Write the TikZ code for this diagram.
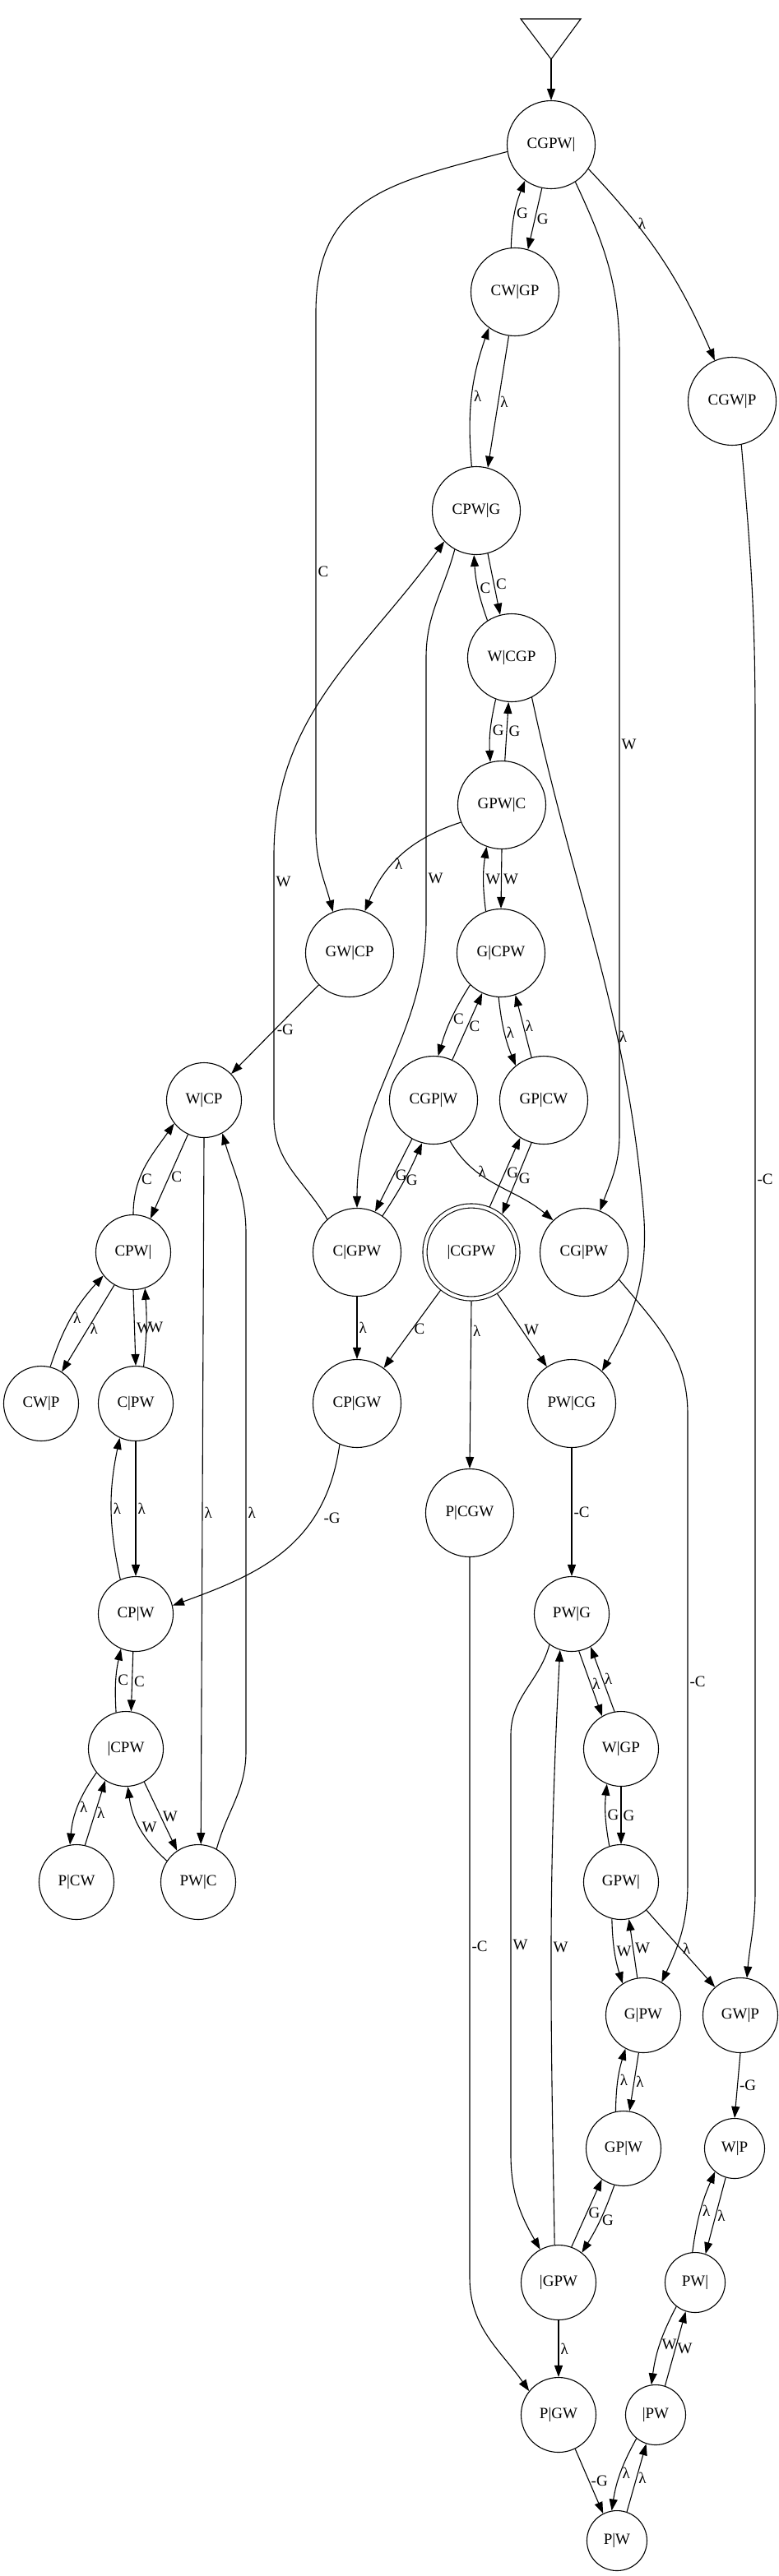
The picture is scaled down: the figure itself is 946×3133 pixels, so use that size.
\documentclass[tikz,border=0pt]{standalone}
\usepackage{fontspec}
\setmainfont{Liberation Serif}
\usepackage{tikz}
\usetikzlibrary{arrows.meta}

\begin{document}
\begin{tikzpicture}[x=1pt, y=-1pt, line width=1.1pt,
					>={Triangle[length=14pt,width=10pt]},   %Pfeilspitzen
					state/.style={circle, draw, inner sep=0pt, minimum size=#1},
					final/.style={state=113pt, double, double distance=4pt, outer sep=3pt},
					lbl/.style={right, inner sep=2pt},
					font=\fontsize{19}{22}\selectfont]
					\useasboundingbox (0,0) rectangle (946,3133);
					% Startdreieck
					\coordinate (start) at (670,72);
					\draw (633,23) -- (706,23) -- (start) -- cycle;
					% Zustände
					\node[state=107pt] (CGPW-0) at (670,176) {CGPW|};
					\node[state=107pt] (CW-GP) at (626,355) {CW|GP};
					\node[state=107pt] (CGW-P) at (890,488) {CGW|P};
					\node[state=107pt] (CPW-G) at (579,621) {CPW|G};
					\node[state=107pt] (W-CGP) at (622,800) {W|CGP};
					\node[state=107pt] (GPW-C) at (610,979) {GPW|C};
					\node[state=107pt] (GW-CP) at (425,1159) {GW|CP};
					\node[state=107pt] (G-CPW) at (609,1159) {G|CPW};
					\node[state=91pt] (W-CP) at (248,1338) {W|CP};
					\node[state=107pt] (CGP-W) at (527,1338) {CGP|W};
					\node[state=107pt] (GP-CW) at (661,1338) {GP|CW};
					\node[state=91pt] (CPW-0) at (162,1523) {CPW|};
					\node[state=107pt] (C-GPW) at (434,1523) {C|GPW};
					\node[final] (0-CGPW) at (573,1523) {|CGPW};
					\node[state=107pt] (CG-PW) at (710,1523) {CG|PW};
					\node[state=91pt] (CW-P) at (50,1707) {CW|P};
					\node[state=91pt] (C-PW) at (165,1707) {C|PW};
					\node[state=107pt] (CP-GW) at (434,1707) {CP|GW};
					\node[state=107pt] (PW-CG) at (695,1707) {PW|CG};
					\node[state=107pt] (P-CGW) at (571,1840) {P|CGW};
					\node[state=91pt] (CP-W) at (165,1963) {CP|W};
					\node[state=91pt] (PW-G) at (695,1963) {PW|G};
					\node[state=91pt] (0-CPW) at (153,2127) {|CPW};
					\node[state=91pt] (W-GP) at (755,2127) {W|GP};
					\node[state=91pt] (P-CW) at (93,2289) {P|CW};
					\node[state=91pt] (PW-C) at (241,2289) {PW|C};
					\node[state=91pt] (GPW-0) at (755,2289) {GPW|};
					\node[state=91pt] (G-PW) at (782,2451) {G|PW};
					\node[state=91pt] (GW-P) at (900,2451) {GW|P};
					\node[state=91pt] (GP-W) at (758,2613) {GP|W};
					\node[state=73pt] (W-P) at (893,2613) {W|P};
					\node[state=91pt] (0-GPW) at (679,2776) {|GPW};
					\node[state=73pt] (PW-0) at (845,2776) {PW|};
					\node[state=91pt] (P-GW) at (679,2937) {P|GW};
					\node[state=73pt] (0-PW) at (797,2937) {|PW};
					\node[state=73pt] (P-W) at (750,3090) {P|W};
					% Übergänge oben
					\draw[->] (start) -- (CGPW-0);
					\draw[->] (CGPW-0.189) to[out=195,in=90,looseness=1.2] (384,380) -- node[lbl] (l1) {C} (384,1010) to[out=-90,in=105] (GW-CP.112);
					\draw[->] (CW-GP.95) to[bend left=10] node[lbl] (l2) {G} (CGPW-0.234);
					\draw[->] (CGPW-0.258) -- node[lbl] (l3) {G} (CW-GP.73);
					\draw[->] (CGPW-0.-33) to[bend left=10] node[lbl,pos=.3] (l4) {λ} (CGW-P.113);
					\draw[->] (CGPW-0.-57) to[out=-65,in=90] (753,430) -- node[lbl] (l5) {W} (753,1380) to[out=-90,in=70] (CG-PW.69);
					\draw[->] (CW-GP.262) -- node[lbl] (l6) {λ} (CPW-G.75);
					\draw[->] (CPW-G.96) to[bend left=12] node[lbl] (l7) {λ} (CW-GP.234);
					\draw[->] (W-CGP.123) to[bend left=8] node[lbl] (l8) {C} (CPW-G.267);
					\draw[->] (CPW-G.285) -- node[lbl] (l9) {C} (W-CGP.105);
					\draw[->] (CPW-G.241) to[out=-105,in=90] (518,800) -- node[lbl,pos=.84] (l10) {W} (518,1120) to[out=-90,in=90] (C-GPW.90);
					\draw[->] (C-GPW.132) to[out=120,in=-90] (333,1360) -- node[lbl,pos=.9] (l11) {W} (333,1040) to[out=90,in=-126] (CPW-G.224);
					\draw[->] (W-CGP.249) to[bend right=8] node[lbl] (l12) {G} (GPW-C.105);
					\draw[->] (GPW-C.86) -- node[lbl] (l13) {G} (W-CGP.266);
					\draw[->] (W-CGP.297) to[out=-78,in=95] node[lbl,pos=.68] (l14) {λ} (782,1470) to[out=-85,in=60] (PW-CG.47);
					\draw[->] (GPW-C.203) to[bend right=25] node[lbl,pos=.6] (l15) {λ} (GW-CP.70);
					\draw[->] (G-CPW.110) to[bend left=8] node[lbl] (l16) {W} (GPW-C.250);
					\draw[->] (GPW-C.270) -- node[lbl] (l17) {W} (G-CPW.90);
					\draw[->] (GW-CP.226) -- node[lbl] (l18) {-G} (W-CP.44);
					\draw[->] (G-CPW.226) to[bend right=8] node[lbl] (l19) {C} (CGP-W.84);
					\draw[->] (CGP-W.65) -- node[lbl] (l20) {C} (G-CPW.245);
					\draw[->] (G-CPW.267) to[bend right=8] node[lbl] (l21) {λ} (GP-CW.129);
					\draw[->] (GP-CW.106) -- node[lbl] (l22) {λ} (G-CPW.-71);
					% Übergänge links
					\draw[->] (CPW-0.90) to[out=90,in=-125] node[lbl,pos=.35] (l23) {C} (W-CP.218);
					\draw[->] (W-CP.245) -- node[lbl] (l24) {C} (CPW-0.63);
					\draw[->] (W-CP.270) -- node[lbl,pos=.53] (l25) {λ} (PW-C.86);
					\draw[->] (PW-C.61) to[out=75,in=-90] (299,2130) -- node[lbl,pos=.46] (l26) {λ} (299,1500) to[out=90,in=-74] (W-CP.-61);
					\draw[->] (CPW-0.240) -- node[lbl] (l27) {λ} (CW-P.57);
					\draw[->] (CW-P.76) to[bend left=12] node[lbl] (l28) {λ} (CPW-0.218);
					\draw[->] (CPW-0.270) -- node[lbl] (l29) {W} (C-PW.90);
					\draw[->] (C-PW.78) to[bend right=5] node[lbl] (l30) {W} (CPW-0.288);
					\draw[->] (C-PW.270) -- node[lbl] (l31) {λ} (CP-W.90);
					\draw[->] (CP-W.114) to[bend left=12] node[lbl] (l32) {λ} (C-PW.245);
					\draw[->] (CP-GW.247) to[out=-98,in=20,out looseness=1.13] node[lbl,pos=.3,xshift=10pt] (l33) {-G} (CP-W.13);
					\draw[->] (0-CPW.105) to[bend left=8] node[lbl] (l34) {C} (CP-W.247);
					\draw[->] (CP-W.266) -- node[lbl] (l35) {C} (0-CPW.82);
					\draw[->] (0-CPW.219) to[bend right=15] node[lbl] (l36) {λ} (P-CW.100);
					\draw[->] (P-CW.77) -- node[lbl] (l37) {λ} (0-CPW.237);
					\draw[->] (PW-C.146) to[bend left=20] node[lbl] (l38) {W} (0-CPW.273);
					\draw[->] (0-CPW.299) -- node[lbl] (l39) {W} (PW-C.124);
					% Übergänge Mitte
					\draw[->] (CG-PW.-38) to[out=-50,in=90] (836,1720) -- node[lbl,pos=.57] (l40) {-C} (836,2290) to[out=-90,in=65] (G-PW.61);
					\draw[->] (CGW-P.-78) to[out=-85,in=90] (918,880) -- node[lbl,pos=.39] (l41) {-C} (918,2300) to[out=-90,in=85] (GW-P.80);
					\draw[->] (0-CGPW.231) -- node[lbl] (l42) {C} (CP-GW.53);
					\draw[->] (C-GPW.270) -- node[lbl] (l43) {λ} (CP-GW.90);
					\draw[->] (0-CGPW.270) -- node[lbl,pos=.18] (l44) {λ} (P-CGW.90);
					\draw[->] (0-CGPW.302) -- node[lbl] (l45) {W} (PW-CG.124);
					\draw[->] (CGP-W.241) -- node[lbl] (l46) {G} (C-GPW.66);
					\draw[->] (C-GPW.55) to[bend right=5] node[lbl] (l47) {G} (CGP-W.255);
					\draw[->] (CGP-W.292) to[out=-60,in=140] node[lbl,pos=.3] (l48) {λ} (CG-PW.134);
					\draw[->] (GP-CW.254) -- node[lbl] (l49) {G} (0-CGPW.51);
					\draw[->] (0-CGPW.68) -- node[lbl] (l50) {G} (GP-CW.238);
					\draw[->] (PW-CG.270) -- node[lbl] (l51) {-C} (PW-G.90);
					\draw[->] (P-CGW) -- node[lbl,pos=.54] (l52) {-C} (571,2770) to[out=-90,in=125] (P-GW.141);
					% Übergänge unten
					\draw[->] (PW-G.281) -- node[lbl] (l53) {λ} (W-GP.120);
					\draw[->] (W-GP.100) -- node[lbl] (l54) {λ} (PW-G.300);
					\draw[->] (PW-G.234) to[out=-105,in=90] (621,2110) -- node[lbl] (l55) {W} (621,2620) to[out=-90,in=120] (0-GPW.119);
					\draw[->] (0-GPW.96) to[out=91,in=-93] node[lbl] (l56) {W} (PW-G.252);
					\draw[->] (GPW-0.108) to[bend left=8] node[lbl] (l57) {G} (W-GP.248);
					\draw[->] (W-GP.270) -- node[lbl] (l58) {G} (GPW-0.90);
					\draw[->] (GPW-0.256) to[bend right=8] node[lbl] (l59) {W} (G-PW.123);
					\draw[->] (G-PW.99) -- node[lbl] (l60) {W} (GPW-0.282);
					\draw[->] (GPW-0.312) -- node[lbl] (l61) {λ} (GW-P.132);
					\draw[->] (GP-W.102) to[bend left=8] node[lbl] (l62) {λ} (G-PW.242);
					\draw[->] (G-PW.263) -- node[lbl] (l63) {λ} (GP-W.81);
					\draw[->] (GW-P.270) -- node[lbl] (l64) {-G} (W-P.90);
					\draw[->] (0-GPW.70) -- node[lbl] (l65) {G} (GP-W.235);
					\draw[->] (GP-W.256) to[bend left=6] node[lbl] (l66) {G} (0-GPW.52);
					\draw[->] (PW-0.95) to[bend left=8] node[lbl] (l67) {λ} (W-P.230);
					\draw[->] (W-P.253) -- node[lbl] (l68) {λ} (PW-0.70);
					\draw[->] (0-GPW.270) -- node[lbl] (l69) {λ} (P-GW.90);
					\draw[->] (PW-0.232) to[bend right=10] node[lbl] (l70) {W} (0-PW.98);
					\draw[->] (0-PW.72) -- node[lbl] (l71) {W} (PW-0.252);
					\draw[->] (P-GW.296) -- node[lbl] (l72) {-G} (P-W.117);
					\draw[->] (0-PW.231) to[bend right=10] node[lbl] (l73) {λ} (P-W.100);
					\draw[->] (P-W.71) -- node[lbl] (l74) {λ} (0-PW.252);
				\end{tikzpicture}
\end{document}
